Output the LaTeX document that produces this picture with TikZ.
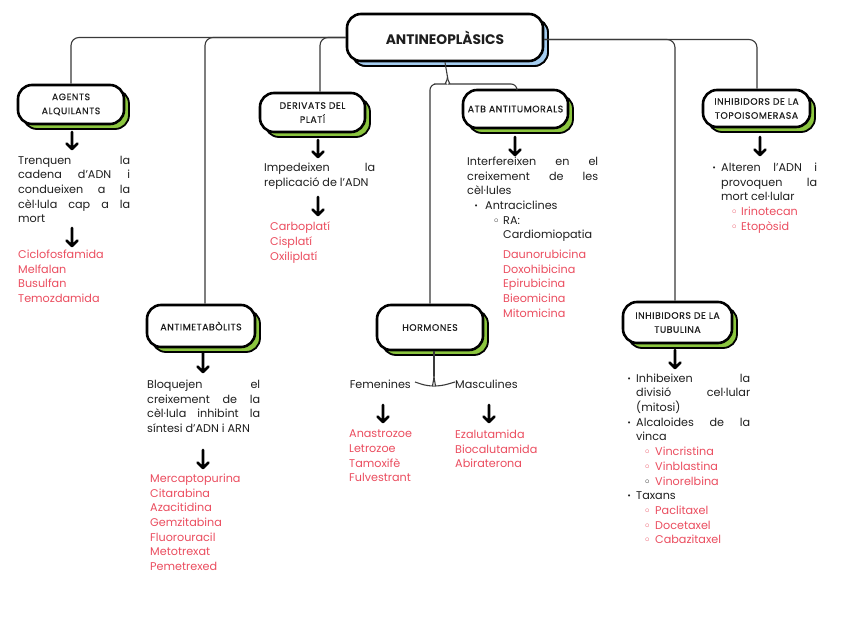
\documentclass[tikz,border=0pt]{standalone}
\usepackage{fontspec}
\setmainfont{Poppins}
\newfontfamily\symfont{DejaVu Sans}
\newfontfamily\hdfont[LetterSpace=6,FakeBold=0.5]{Poppins}
\usetikzlibrary{arrows.meta,shadows}
\hyphenpenalty=10000
\exhyphenpenalty=10000
\definecolor{redtxt}{HTML}{EB4D5F}
\definecolor{shgreen}{HTML}{8CC63F}
\definecolor{shblue}{HTML}{A5CDF0}
\definecolor{linegray}{HTML}{3A3A3A}
\definecolor{ink}{HTML}{1E1E1E}
\newcommand{\bdot}{{\symfont\fontsize{7}{7}\selectfont •}}
\newcommand{\bring}{{\symfont\bfseries\fontsize{10}{10}\selectfont ◦}}
\newcommand{\bitem}[1]{\par\noindent\hangindent=9pt\hangafter=1\makebox[9pt][l]{\raisebox{1pt}{\bdot}}#1}
\newcommand{\sitem}[2]{\par\noindent\hangindent=28pt\hangafter=1\hspace*{17pt}\makebox[11pt][l]{\color{#1}\bring}{\color{redtxt}#2}}
\newcommand{\bodyfont}{\fontsize{11.2}{14.7}\selectfont}
\tikzset{
  cbox/.style={draw=black, line width=2.6pt, fill=white, rounded corners=14pt,
    align=center, inner sep=2pt, text=ink, font=\hdfont\fontsize{9.3}{14}\selectfont,
    copy shadow={shadow xshift=5pt, shadow yshift=-5pt, fill=shgreen, draw=black, line width=1.8pt}},
  tbox/.style={cbox, font=\bfseries\fontsize{13.8}{16}\selectfont,
    copy shadow={shadow xshift=5pt, shadow yshift=-5pt, fill=shblue, draw=black, line width=1.8pt}},
  conn/.style={draw=linegray, line width=1.1pt, rounded corners=8pt},
  darrow/.style={draw=black, line width=2.6pt, line cap=round, line join=round,
    to path={(\tikztostart) -- (\tikztotarget) ++(-5.5,-5.5) -- (\tikztotarget) -- ++(5.5,-5.5)}},
  txt/.style={inner sep=0pt, anchor=north west, text=ink, align=justify, font=\bodyfont},
  rtxt/.style={txt, text=redtxt, align=left},
}
\begin{document}
\begin{tikzpicture}[x=1pt,y=-1pt]
\useasboundingbox (0,0) rectangle (848,636);
\fill[white] (0,0) rectangle (848,636);
% boxes
\node[tbox, minimum width=196pt, minimum height=47pt] (title) at (445,37.5) {ANTINEOPLÀSICS};
\node[cbox, minimum width=106pt, minimum height=39pt] (agents) at (71,104.5) {AGENTS\\ALQUILANTS};
\node[cbox, minimum width=105pt, minimum height=39pt] (derivats) at (312.5,112.5) {DERIVATS DEL\\PLATÍ};
\node[cbox, minimum width=105pt, minimum height=38pt] (atb) at (515.5,109) {ATB ANTITUMORALS};
\node[cbox, minimum width=107pt, minimum height=37pt] (topo) at (756.5,108.5) {INHIBIDORS DE LA\\TOPOISOMERASA};
\node[cbox, minimum width=108pt, minimum height=42pt] (antimet) at (201,326) {ANTIMETABÒLITS};
\node[cbox, minimum width=106pt, minimum height=45pt] (hormones) at (430,327.5) {HORMONES};
\node[cbox, minimum width=109pt, minimum height=41pt] (tubulina) at (677.5,322.5) {INHIBIDORS DE LA\\TUBULINA};
% connectors from title
\draw[conn] (title.west) -| (agents.north);
\draw[conn] (title.west) -| ([xshift=4pt]antimet.north);
\draw[conn] (title.west) -| ([xshift=7.5pt]derivats.north);
\draw[conn] ([yshift=-2pt]title.east) -| ([xshift=0.5pt]topo.north);
\draw[conn] ([yshift=-2pt]title.east) -| ([xshift=-2.5pt]tubulina.north);
\coordinate (tb) at (447.5,77);
\draw[conn] (title.south) -- (tb);
\draw[conn, rounded corners=6pt] (tb) to[out=-90,in=0] (440,84) -| (hormones.north);
\draw[conn, rounded corners=6pt] (tb) to[out=-90,in=180] (455,84) -| ([xshift=1.5pt]atb.north);
% texts
\node[txt, text width=112pt] (agtxt) at (18,155.7) {Trenquen la\linebreak cadena d'ADN i\linebreak condueixen a la\linebreak cèl·lula cap a la\linebreak mort};
\node[rtxt] (agred) at (18,249.7) {Ciclofosfamida\\Melfalan\\Busulfan\\Temozdamida};
\node[txt, text width=111pt] (dvtxt) at (264,162.7) {Impedeixen la\linebreak replicació de l'ADN};
\node[rtxt] (dvred) at (270,221.7) {Carboplatí\\Cisplatí\\Oxiliplatí};
\node[txt, text width=131pt] (attxt) at (467,156.7) {Interfereixen en el\linebreak creixement de les\linebreak cèl·lules
 \par\noindent\hspace*{7pt}\makebox[11pt][l]{\raisebox{1pt}{\bdot}}Antraciclines
 \par\noindent\hspace*{26pt}\makebox[10pt][l]{\bring}RA:
 \par\noindent\hspace*{36pt}Cardiomiopatia};
\node[rtxt] (atred) at (503,249.7) {Daunorubicina\\Doxohibicina\\Epirubicina\\Bieomicina\\Mitomicina};
\node[txt, text width=105pt] (tptxt) at (712,156.5) {\bitem{Alteren l'ADN i\linebreak provoquen la\linebreak mort cel·lular}
 \par\noindent\hspace*{19pt}\makebox[10pt][l]{\color{redtxt}\bring}{\color{redtxt}Irinotecan}
 \par\noindent\hspace*{19pt}\makebox[10pt][l]{\color{redtxt}\bring}{\color{redtxt}Etopòsid}};
\node[txt, text width=113pt] (amtxt) at (147,379.7) {Bloquejen el\linebreak creixement de la\linebreak cèl·lula inhibint la\linebreak síntesi d'ADN i ARN};
\node[rtxt] (amred) at (150,473.7) {Mercaptopurina\\Citarabina\\Azacitidina\\Gemzitabina\\Fluorouracil\\Metotrexat\\Pemetrexed};
\node[txt, anchor=east, align=left] (fem) at (411,384) {Femenines};
\node[txt, anchor=west, align=left] (masc) at (455,384) {Masculines};
\node[rtxt] (fmred) at (349,429.7) {Anastrozoe\\Letrozoe\\Tamoxifè\\Fulvestrant};
\node[rtxt] (msred) at (455,429.7) {Ezalutamida\\Biocalutamida\\Abiraterona};
\node[txt, text width=123pt] (tbtxt) at (627,367.2) {\bitem{Inhibeixen la\linebreak divisió cel·lular\linebreak (mitosi)}
 \bitem{Alcaloides de la\linebreak vinca}
 \sitem{redtxt}{Vincristina}
 \sitem{redtxt}{Vinblastina}
 \sitem{ink}{Vinorelbina}
 \bitem{Taxans}
 \sitem{redtxt}{Paclitaxel}
 \sitem{redtxt}{Docetaxel}
 \sitem{redtxt}{Cabazitaxel}};
% hormones brace
\coordinate (hb) at (434,376);
\draw[conn] ([xshift=4pt]hormones.south) -- (hb);
\draw[conn, rounded corners=6pt] (hb) to[out=-90,in=0] (427,386) -- ([xshift=4pt,yshift=2pt]fem.east);
\draw[conn, rounded corners=6pt] (hb) to[out=-90,in=180] (441,386) -- ([yshift=2pt]masc.west);
% arrows
\coordinate (a1s) at (72,132);  \coordinate (a1e) at (72,149);
\coordinate (a2s) at (72,228);  \coordinate (a2e) at (72,246);
\coordinate (a3s) at (318,140); \coordinate (a3e) at (318,157);
\coordinate (a4s) at (318,197); \coordinate (a4e) at (318,215);
\coordinate (a5s) at (515,137); \coordinate (a5e) at (515,155);
\coordinate (a6s) at (760,137); \coordinate (a6e) at (760,155);
\coordinate (a7s) at (203,353); \coordinate (a7e) at (203,372);
\coordinate (a8s) at (203,450); \coordinate (a8e) at (203,468);
\coordinate (a9s) at (383,405); \coordinate (a9e) at (383,422);
\coordinate (a10s) at (489,405); \coordinate (a10e) at (489,422);
\coordinate (a11s) at (675,350); \coordinate (a11e) at (675,368);
\foreach \i in {1,...,11} {\draw[darrow] (a\i s) to (a\i e);}
\end{tikzpicture}
\end{document}
